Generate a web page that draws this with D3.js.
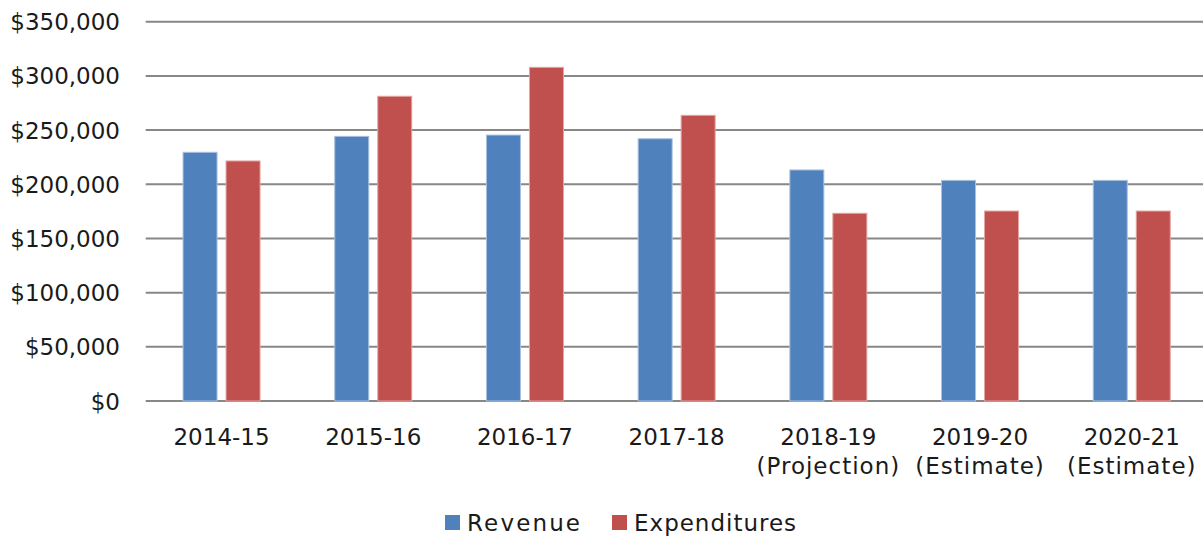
<!DOCTYPE html>
<html><head><meta charset="utf-8">
<script src="https://cdn.jsdelivr.net/npm/d3@7"></script>
<style>body{margin:0;background:#fff}svg{display:block}text{font-family:"DejaVu Sans",sans-serif;fill:#1a1a1a}</style>
</head><body>
<svg id="c" width="1203" height="537"></svg>
<script>
const categories = [["2014-15"],["2015-16"],["2016-17"],["2017-18"],["2018-19","(Projection)"],["2019-20","(Estimate)"],["2020-21","(Estimate)"]];
const revenue = [229500, 244200, 245400, 242000, 213200, 203600, 203600];
const expenditures = [221500, 281200, 307900, 263600, 173200, 175300, 175300];
const seriesNames = ["Revenue", "Expenditures"];
const seriesColors = ["#4F81BD", "#C0504D"];
const yTicks = [0, 50000, 100000, 150000, 200000, 250000, 300000, 350000];

const svg = d3.select("#c");
const pLeft = 145.7, pRight = 1207.6, pTop = 21.7, pBottom = 401;
const x = d3.scaleBand().domain(d3.range(categories.length)).range([pLeft, pRight]).paddingInner(0).paddingOuter(0);
const bw = 34, gap = 9;
const y = d3.scaleLinear().domain([0, 350000]).range([pBottom, pTop]);
const fmt = v => "$" + d3.format(",")(v);
const fs = "23px";

// gridlines
svg.append("g").selectAll("line").data(yTicks).join("line")
  .attr("x1", pLeft).attr("x2", 1203).attr("y1", d => y(d)).attr("y2", d => y(d))
  .attr("stroke", "#878787").attr("stroke-width", 2);

// y labels
svg.append("g").selectAll("text").data(yTicks).join("text")
  .attr("x", 120).attr("y", d => y(d) + 8.5).attr("text-anchor", "end")
  .style("font-size", fs).text(fmt);

// bars
const data = [revenue, expenditures];
data.forEach((vals, si) => {
  svg.append("g").selectAll("rect").data(vals).join("rect")
    .attr("x", (d, i) => x(i) + x.bandwidth() / 2 - bw - gap / 2 + si * (bw + gap))
    .attr("y", d => y(d))
    .attr("width", bw)
    .attr("height", d => y(0) - y(d))
    .attr("fill", seriesColors[si])
    .attr("stroke", si === 0 ? "#a9c0e0" : "#e2a5a3").attr("stroke-width", 1);
});

// category labels
const cg = svg.append("g");
categories.forEach((lines, i) => {
  const t = cg.append("text").attr("text-anchor", "middle").style("font-size", fs);
  lines.forEach((l, j) => t.append("tspan").attr("x", x(i) + x.bandwidth() / 2).attr("y", 445 + j * 28.5)
    .style("letter-spacing", j === 1 ? "1px" : "0px").text(l));
});

// legend
const legendX = [445, 612];
const legendW = [113, 162];
seriesNames.forEach((n, i) => {
  svg.append("rect").attr("x", legendX[i]).attr("y", 515).attr("width", 15).attr("height", 15).attr("fill", seriesColors[i]);
  svg.append("text").attr("x", legendX[i] + 22).attr("y", 531).style("font-size", fs)
    .attr("textLength", legendW[i]).attr("lengthAdjust", "spacing").text(n);
});
</script>
</body></html>
